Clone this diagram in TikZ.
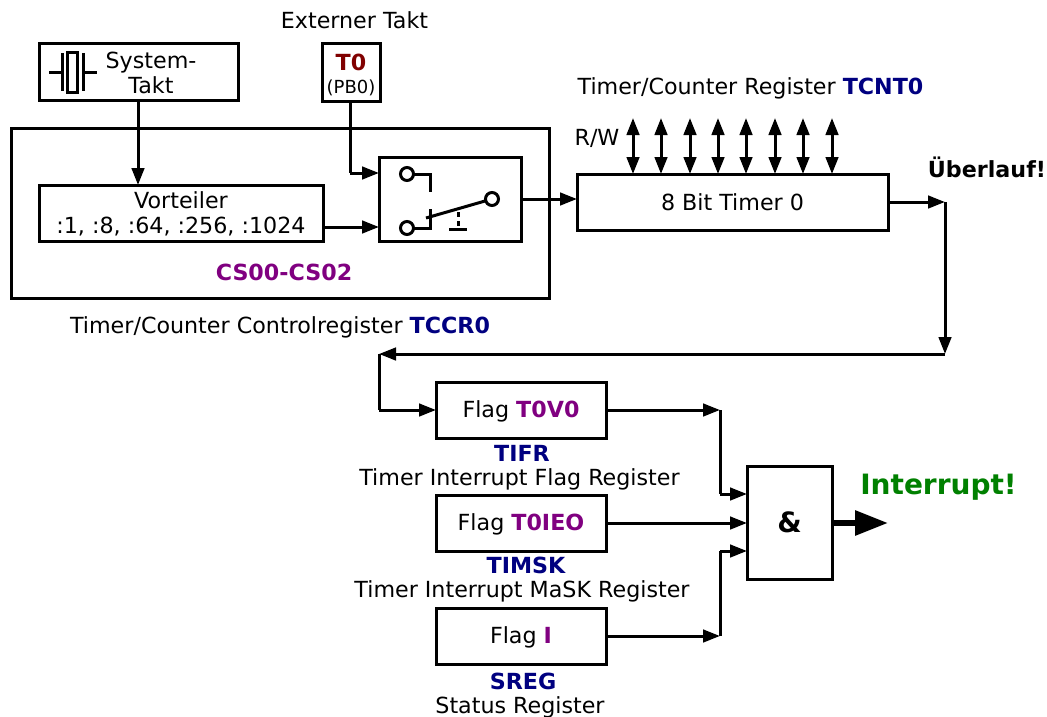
\documentclass[tikz,border=0pt]{standalone}
\usepackage{fontspec}
\usepackage{tikz}
\usetikzlibrary{arrows.meta, positioning, calc}
\setmainfont{DejaVu Sans}
\definecolor{regnavy}{HTML}{000080}
\definecolor{regpurple}{HTML}{800080}
\definecolor{pinred}{HTML}{800000}
\definecolor{intgreen}{HTML}{008000}
\newcommand{\regname}[1]{\textbf{\textcolor{regnavy}{#1}}}
\newcommand{\bitname}[1]{\textbf{\textcolor{regpurple}{#1}}}

\begin{document}
\begin{tikzpicture}[
        x=1pt, y=-1pt,
        every node/.style={font=\fontsize{22.2}{25.5}\selectfont, inner sep=0pt, outer sep=0pt, align=center},
        box/.style={draw, line width=3pt, line join=miter},
        flagbox/.style={box, minimum width=170pt, minimum height=56pt, text depth=5pt, text height=19pt},
        sig/.style={line width=3pt, -{Triangle[length=17pt,width=12.5pt]}},
        wire/.style={line width=3pt},
        bidir/.style={line width=3pt, {Triangle[length=17pt,width=12.5pt]}-{Triangle[length=17pt,width=12.5pt]}},
        pin/.style={draw, circle, line width=3pt, fill=white, minimum size=13pt}
    ]
        \useasboundingbox (0,0) rectangle (1047,717);

        % Clock sources
        \node[box, minimum width=199pt, minimum height=56pt] (systakt) at (138.5,72) {};
        \node (systext) at (151,73) {System-\\Takt};
        \node[box, minimum width=58pt, minimum height=57pt] (t0) at (351,72.5) {};
        \node (t0text) at (351,75)
            {\textcolor{pinred}{\textbf{T0}}\\[-2pt]{\fontsize{18}{20}\selectfont (PB0)}};
        \node (extlabel) at (354.5,20) {Externer Takt};

        % Prescaler group
        \node[box, minimum width=538pt, minimum height=170pt] (tccr) at (280,213) {};
        \node[box, minimum width=284pt, minimum height=56pt] (vorteiler) at (181,213) {};
        \node (vortext) at (181,214) {Vorteiler\\:1, :8, :64, :256, :1024};
        \node[box, minimum width=142pt, minimum height=84pt] (mux) at (450,199) {};
        \node[font=\fontsize{22.2}{25}\selectfont\bfseries, text=regpurple] (cslabel) at (284,272) {CS00-CS02};
        \node (tccrlabel) at (280,327) {Timer/Counter Controlregister \regname{TCCR0}};

        % Timer
        \node[box, minimum width=311pt, minimum height=56pt] (timer) at (732.5,202) {8 Bit Timer 0};
        \node (tcntlabel) at (750.5,88) {Timer/Counter Register \regname{TCNT0}};
        \node (rwlabel) at (597,138) {R/W};
        \node[font=\fontsize{22.2}{25}\selectfont\bfseries] (ueberlauf) at (987,167) {Überlauf!};

        % Flags
        \node[flagbox] (tov) at (521,410) {Flag \bitname{T0V0}};
        \node[flagbox] (toie) at (521,523) {Flag \bitname{T0IEO}};
        \node[flagbox] (flagi) at (521,636) {Flag \bitname{I}};
        \node (tifr) at (522,453) {\regname{TIFR}};
        \node (tifrtext) at (519.5,479) {Timer Interrupt Flag Register};
        \node (timsk) at (526,565) {\regname{TIMSK}};
        \node (timsktext) at (522,591) {Timer Interrupt MaSK Register};
        \node (sreg) at (523,681) {\regname{SREG}};
        \node (sregtext) at (520,707) {Status Register};

        % AND gate
        \node[box, minimum width=85pt, minimum height=113pt] (andgate) at (789.5,522.5)
            {\fontsize{28}{30}\selectfont\bfseries \&};
        \node[font=\fontsize{28}{32}\selectfont\bfseries, text=intgreen] (intlabel) at (938.5,487) {Interrupt!};

        % Corner points
        \coordinate (t0corner) at (350,173);
        \coordinate (ovlr) at (945,202);
        \coordinate (ovll) at (945,354);
        \coordinate (backtop) at (379,354);
        \coordinate (backbot) at (379,410);
        \coordinate (tovcorner) at (720,410);
        \coordinate (tovin) at (720,494);
        \coordinate (icorner) at (720,636);
        \coordinate (iin) at (720,551);
        \coordinate (intend) at (888,523);

        % Lines
        \draw[sig] (systakt.south -| 138,0) -- (138,185);
        \draw[wire] (350,101) -- (t0corner);
        \draw[sig] (t0corner) -- (t0corner -| mux.west);
        \draw[sig] (vorteiler.east |- 0,227) -- (mux.west |- 0,227);
        \draw[sig] (mux.east) -- (mux.east -| timer.west);
        \draw[sig] (timer.east) -- (ovlr);
        \draw[sig] (ovlr) -- (ovll);
        \draw[sig] (ovll) -- (backtop);
        \draw[wire] (backtop) -- (backbot);
        \draw[sig] (backbot) -- (tov.west);
        \draw[sig] (tov.east) -- (tovcorner);
        \draw[wire] (tovcorner) -- (tovin);
        \draw[sig] (tovin) -- (tovin -| andgate.west);
        \draw[sig] (toie.east) -- (toie.east -| andgate.west);
        \draw[sig] (flagi.east) -- (icorner);
        \draw[wire] (icorner) -- (iin);
        \draw[sig] (iin) -- (iin -| andgate.west);
        \draw[line width=6pt, -{Triangle[length=33pt,width=24pt]}] (andgate.east |- intend) -- (intend);

        % Bus
        \coordinate (rw1) at (633,118); \draw[bidir] (rw1) -- (rw1 |- timer.north);
        \coordinate (rw2) at (661,118); \draw[bidir] (rw2) -- (rw2 |- timer.north);
        \coordinate (rw3) at (690,118); \draw[bidir] (rw3) -- (rw3 |- timer.north);
        \coordinate (rw4) at (718,118); \draw[bidir] (rw4) -- (rw4 |- timer.north);
        \coordinate (rw5) at (746,118); \draw[bidir] (rw5) -- (rw5 |- timer.north);
        \coordinate (rw6) at (775,118); \draw[bidir] (rw6) -- (rw6 |- timer.north);
        \coordinate (rw7) at (803,118); \draw[bidir] (rw7) -- (rw7 |- timer.north);
        \coordinate (rw8) at (832,118); \draw[bidir] (rw8) -- (rw8 |- timer.north);

        % Crystal symbol
        \draw[wire] (49,72.5) -- (61,72.5);
        \draw[wire] (62,53) -- (62,91);
        \draw[box] (67,53) rectangle (77,92);
        \draw[wire] (83,53) -- (83,91);
        \draw[wire] (83,72.5) -- (97,72.5);

        % Switch symbol
        \draw[wire] (407,174) -- (430,174) -- (430,192);
        \draw[wire] (407,228) -- (430,228) -- (430,209);
        \draw[wire] (426,218) -- (492,199);
        \draw[wire, dash pattern=on 5pt off 4pt] (458,212) -- (458,229);
        \draw[wire] (449,229) -- (467,229);
        \node[pin] (pintop) at (407,174) {};
        \node[pin] (pinbot) at (407,228) {};
        \node[pin] (pinout) at (492,199) {};
    \end{tikzpicture}
\end{document}
